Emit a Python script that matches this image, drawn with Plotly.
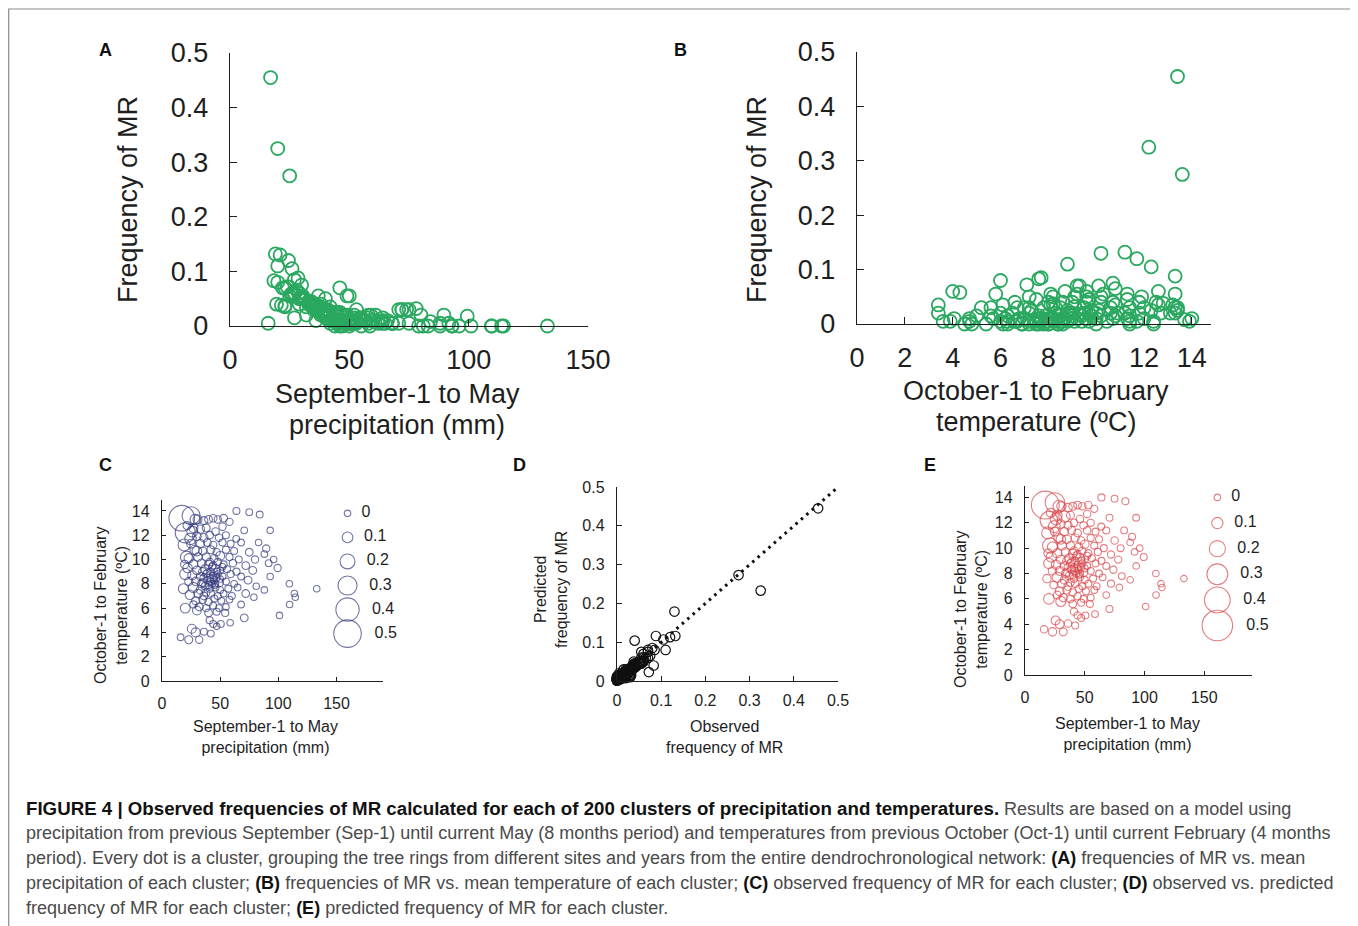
import plotly.graph_objects as go

# ---------------- data (one entry per cluster) ----------------
precip = [17, 20, 25, 19, 21, 24.5, 26, 20, 28.5, 27, 18.4, 24, 20, 30, 30, 22, 23,
          64, 84, 30.5, 36, 40, 44, 48, 53, 58,
          27, 33, 38, 46, 52, 70.7, 93,
          30, 36, 41, 49, 55, 63.8,
          25, 33, 39, 44, 52, 59, 68, 83,
          28, 35, 42, 47, 55, 62, 75, 89.6,
          31, 38, 45, 50, 58, 66, 80, 88, 96,
          27, 34, 40, 44, 48, 53, 61, 72, 91.7,
          30, 37, 42, 46, 50, 56, 64, 78, 99.4,
          26, 33, 38, 41, 44, 47, 52, 59, 68, 93,
          29, 35, 39, 43, 45, 49, 55, 62, 74, 81, 109.5,
          33, 37, 41, 46, 50, 57, 65, 88, 133,
          31, 36, 42, 48, 53, 60, 72, 113.8,
          29, 35, 40, 45, 51, 58, 79, 114.6,
          32, 38, 44, 49, 55, 68, 109.7,
          40, 47, 54.3, 101,
          41, 44, 47, 50.6, 58.6, 70.7,
          16, 23, 32, 25.6, 29, 36, 42,
          39, 43, 47, 45, 42, 48, 40, 44, 46, 36, 50, 38, 52, 41, 35, 34,
          19.5, 21.5, 23, 27, 75]

temp = [13.4, 12.2, 13.6, 11.2, 10.2, 11.7, 12.3, 8.8, 13.3, 7.7, 7.6, 7.1, 6.0, 5.8, 10.7, 9.3, 10.1,
        14.0, 13.7, 13.3, 13.2, 13.3, 13.4, 13.3, 13.4, 13.1,
        12.6, 12.5, 12.6, 12.3, 12.7, 12.4, 12.4,
        11.9, 11.8, 12.0, 11.8, 12.0, 11.7,
        11.3, 11.3, 11.4, 11.2, 11.4, 11.3, 11.4, 11.4,
        10.8, 10.7, 10.8, 10.6, 10.8, 10.7, 10.6, 10.9,
        10.2, 10.2, 10.1, 10.3, 10.2, 10.0, 10.0, 10.45, 10.0,
        9.6, 9.7, 9.6, 9.5, 9.8, 9.6, 9.7, 9.5, 9.7,
        9.1, 9.2, 9.0, 9.2, 9.1, 9.2, 9.0, 9.1, 9.3,
        8.7, 8.6, 8.8, 8.5, 8.7, 8.5, 8.6, 8.8, 8.6, 8.6,
        8.2, 8.1, 8.3, 8.0, 8.3, 8.1, 8.2, 8.0, 8.3, 7.8, 8.0,
        7.5, 7.8, 7.6, 7.7, 7.5, 7.6, 7.7, 7.5, 7.6,
        7.2, 7.0, 7.2, 7.0, 7.2, 7.0, 7.2, 7.2,
        6.6, 6.7, 6.5, 6.8, 6.6, 6.7, 6.9, 6.9,
        6.1, 6.0, 6.2, 6.0, 6.1, 6.3, 6.3,
        5.6, 5.7, 5.6, 5.4,
        5.0, 4.7, 4.5, 4.7, 4.8, 5.2,
        3.6, 3.4, 3.4, 4.3, 4.0, 4.06, 3.9,
        8.9, 9.4, 9.0, 7.9, 8.2, 8.8, 7.9, 8.4, 8.0, 8.5, 8.4, 7.3, 9.4, 9.8, 9.0, 8.0,
        9.6, 12.8, 8.2, 6.3, 13.9]

observed = [0.455, 0.325, 0.275, 0.132, 0.130, 0.120, 0.105, 0.110, 0.088, 0.085, 0.083, 0.072, 0.080, 0.055, 0.075, 0.070, 0.070,
            0.010, 0.008, 0.055, 0.035, 0.030, 0.025, 0.020, 0.030, 0.020,
            0.060, 0.040, 0.035, 0.025, 0.020, 0.005, 0.000,
            0.050, 0.040, 0.030, 0.020, 0.010, 0.005,
            0.055, 0.045, 0.030, 0.020, 0.015, 0.010, 0.005, 0.000,
            0.065, 0.040, 0.035, 0.020, 0.015, 0.010, 0.030, 0.020,
            0.050, 0.040, 0.025, 0.055, 0.015, 0.010, 0.020, 0.005, 0.000,
            0.060, 0.045, 0.050, 0.020, 0.015, 0.010, 0.020, 0.030, 0.005,
            0.050, 0.055, 0.020, 0.070, 0.005, 0.010, 0.015, 0.032, 0.018,
            0.060, 0.040, 0.025, 0.015, 0.010, 0.005, 0.010, 0.020, 0.005, 0.000,
            0.050, 0.035, 0.020, 0.010, 0.005, 0.055, 0.010, 0.005, 0.030, 0.000, 0.000,
            0.045, 0.030, 0.015, 0.010, 0.005, 0.010, 0.005, 0.000, 0.000,
            0.050, 0.030, 0.020, 0.010, 0.005, 0.010, 0.030, 0.000,
            0.040, 0.030, 0.020, 0.010, 0.005, 0.005, 0.000, 0.000,
            0.035, 0.020, 0.010, 0.005, 0.000, 0.005, 0.000,
            0.030, 0.010, 0.015, 0.000,
            0.015, 0.010, 0.000, 0.005, 0.000, 0.030,
            0.005, 0.035, 0.020, 0.058, 0.060, 0.010, 0.005,
            0.020, 0.015, 0.010, 0.005, 0.010, 0.005, 0.015, 0.000, 0.000, 0.030, 0.000, 0.025, 0.005, 0.025, 0.040, 0.040,
            0.040, 0.038, 0.037, 0.015, 0.005]

predicted = [0.445, 0.233, 0.273, 0.116, 0.179, 0.113, 0.107, 0.080, 0.116, 0.080, 0.040, 0.023, 0.085, 0.075, 0.065, 0.080, 0.075,
             0.012, 0.010, 0.060, 0.040, 0.030, 0.025, 0.020, 0.020, 0.015,
             0.070, 0.104, 0.030, 0.020, 0.020, 0.010, 0.005,
             0.045, 0.035, 0.025, 0.020, 0.015, 0.010,
             0.050, 0.040, 0.030, 0.025, 0.020, 0.010, 0.008, 0.005,
             0.060, 0.045, 0.030, 0.020, 0.015, 0.010, 0.020, 0.008,
             0.050, 0.035, 0.030, 0.045, 0.012, 0.010, 0.008, 0.004, 0.003,
             0.055, 0.040, 0.045, 0.025, 0.020, 0.015, 0.012, 0.015, 0.003,
             0.045, 0.050, 0.025, 0.060, 0.015, 0.010, 0.010, 0.015, 0.010,
             0.060, 0.040, 0.030, 0.020, 0.015, 0.012, 0.010, 0.010, 0.008, 0.003,
             0.050, 0.035, 0.025, 0.015, 0.012, 0.045, 0.010, 0.008, 0.015, 0.005, 0.002,
             0.040, 0.030, 0.020, 0.015, 0.010, 0.010, 0.006, 0.003, 0.001,
             0.045, 0.030, 0.020, 0.012, 0.010, 0.006, 0.012, 0.002,
             0.045, 0.030, 0.020, 0.015, 0.010, 0.006, 0.004, 0.002,
             0.035, 0.025, 0.015, 0.010, 0.006, 0.004, 0.002,
             0.025, 0.012, 0.008, 0.002,
             0.020, 0.015, 0.010, 0.008, 0.005, 0.010,
             0.020, 0.040, 0.030, 0.050, 0.050, 0.020, 0.010,
             0.025, 0.020, 0.012, 0.010, 0.015, 0.010, 0.020, 0.012, 0.010, 0.030, 0.008, 0.025, 0.010, 0.030, 0.035, 0.040,
             0.045, 0.050, 0.040, 0.030, 0.006]

legend_levels = [0, 0.1, 0.2, 0.3, 0.4, 0.5]
identity_line = [0, 0.5]

# ---------------- helpers ----------------
# the page body adds an 8px offset; positions below are page pixels
W, H = 1358, 926
OFF = 8
def px(x):
    return (x - OFF) / W
def py(y):
    return 1 - (y - OFF) / H

FONT = "Liberation Sans, Arial, sans-serif"
GREEN = "#2aa860"
NAVY = "#343a7c"
RED = "#d9464b"
INK = "#1e1e1e"

fig = go.Figure()

def axis(dom, rng, tickvals, ticktext, size, ticklen, standoff, anchor):
    return dict(domain=dom, range=rng, tickvals=tickvals, ticktext=ticktext,
                showline=True, linecolor=INK, linewidth=1.4, ticks="inside",
                ticklen=ticklen, tickwidth=1.3, tickcolor=INK, showgrid=False,
                zeroline=False, tickfont=dict(family=FONT, size=size, color=INK),
                ticklabelstandoff=standoff, anchor=anchor, fixedrange=True,
                automargin=False)

def fmt(v):
    return "0" if v == 0 else ("%g" % v)

t05 = [0, 0.1, 0.2, 0.3, 0.4, 0.5]
lab05 = [fmt(v) for v in t05]
t150 = [0, 50, 100, 150]
t14 = list(range(0, 15, 2))

layout = dict(width=W, height=H, margin=dict(l=0, r=0, t=0, b=0, pad=0, autoexpand=False),
              paper_bgcolor="white", plot_bgcolor="rgba(0,0,0,0)", showlegend=False)

# Panel A
layout["xaxis"] = axis([px(230), px(588)], [0, 150], t150, [str(v) for v in t150], 27, 7, 9, "y")
layout["yaxis"] = axis([py(326), py(53)], [0, 0.5], t05, lab05, 27, 7, 15, "x")
# Panel B
layout["xaxis2"] = axis([px(857), px(1211)], [0, 14.8], t14, [str(v) for v in t14], 27, 7, 9, "y2")
layout["yaxis2"] = axis([py(324), py(52)], [0, 0.5], t05, lab05, 27, 7, 15, "x2")
# Panel C
layout["xaxis3"] = axis([px(162), px(383)], [0, 190], t150, [str(v) for v in t150], 16, 4, 8, "y3")
layout["yaxis3"] = axis([py(681), py(500)], [0, 14.9], t14, [str(v) for v in t14], 16, 4, 8, "x3")
# Panel D
layout["xaxis4"] = axis([px(617), px(838)], [0, 0.5], t05, lab05, 16, 5, 5, "y4")
layout["yaxis4"] = axis([py(681), py(487)], [0, 0.5], t05, lab05, 16, 5, 8, "x4")
# Panel E
layout["xaxis5"] = axis([px(1025), px(1252)], [0, 190], t150, [str(v) for v in t150], 16, 4, 8, "y5")
layout["yaxis5"] = axis([py(675), py(486)], [0, 14.9], t14, [str(v) for v in t14], 16, 4, 8, "x5")

# ---------------- traces ----------------
fig.add_trace(go.Scatter(x=precip, y=observed, mode="markers", xaxis="x", yaxis="y",
                         cliponaxis=False,
                         marker=dict(symbol="circle-open", size=13, color=GREEN, line=dict(width=1.8, color=GREEN))))
fig.add_trace(go.Scatter(x=temp, y=observed, mode="markers", xaxis="x2", yaxis="y2",
                         cliponaxis=False,
                         marker=dict(symbol="circle-open", size=13, color=GREEN, line=dict(width=1.8, color=GREEN))))

def bubble_sizes(vals, base, scale):
    return [base + scale * v for v in vals]

def labels(vals):
    return ["  " + fmt(v) for v in vals]

fig.add_trace(go.Scatter(x=precip, y=temp, mode="markers", xaxis="x3", yaxis="y3",
                         cliponaxis=False,
                         marker=dict(symbol="circle-open", size=bubble_sizes(observed, 6.5, 42), sizemode="diameter",
                                     color=NAVY, line=dict(width=1.1, color=NAVY))))
leg_y_c = [13.8 - 1.98 * i for i in range(len(legend_levels))]
fig.add_trace(go.Scatter(x=[159.5] * len(legend_levels), y=leg_y_c, mode="markers+text", xaxis="x3", yaxis="y3",
                         cliponaxis=False, text=labels(legend_levels), textposition="middle right",
                         textfont=dict(family=FONT, size=16, color=INK),
                         marker=dict(symbol="circle-open", size=bubble_sizes(legend_levels, 6.5, 42),
                                     color=NAVY, line=dict(width=1.1, color=NAVY))))

fig.add_trace(go.Scatter(x=identity_line, y=identity_line, mode="lines", xaxis="x4", yaxis="y4",
                         cliponaxis=False, line=dict(color="#111", width=3, dash="2.6px,4.6px")))
fig.add_trace(go.Scatter(x=observed, y=predicted, mode="markers", xaxis="x4", yaxis="y4",
                         cliponaxis=False,
                         marker=dict(symbol="circle-open", size=9.5, color="#111", line=dict(width=1.2, color="#111"))))

fig.add_trace(go.Scatter(x=precip, y=temp, mode="markers", xaxis="x5", yaxis="y5",
                         cliponaxis=False,
                         marker=dict(symbol="circle-open", size=bubble_sizes(predicted, 6.5, 48), sizemode="diameter",
                                     color=RED, line=dict(width=1.1, color=RED))))
leg_y_e = [14.0 - 2.02 * i for i in range(len(legend_levels))]
fig.add_trace(go.Scatter(x=[161] * len(legend_levels), y=leg_y_e, mode="markers+text", xaxis="x5", yaxis="y5",
                         cliponaxis=False, text=labels(legend_levels), textposition="middle right",
                         textfont=dict(family=FONT, size=16, color=INK),
                         marker=dict(symbol="circle-open", size=bubble_sizes(legend_levels, 6.5, 48),
                                     color=RED, line=dict(width=1.1, color=RED))))

# ---------------- annotations ----------------
ann = []
def text(x, y, s, size, angle=0, xanchor="center", bold=False, color=INK):
    ann.append(dict(x=px(x), y=py(y), xref="paper", yref="paper", text=("<b>%s</b>" % s) if bold else s,
                    showarrow=False, textangle=angle, xanchor=xanchor, yanchor="middle",
                    font=dict(family=FONT, size=size, color=color)))

for lab, x, y in [("A", 106, 50), ("B", 680, 50), ("C", 106, 465), ("D", 519, 465), ("E", 930, 465)]:
    text(x, y, lab, 18, bold=True, color="#111")

text(128, 200, "Frequency of MR", 27, angle=-90)
text(397, 394, "September-1 to May", 27)
text(397, 425, "precipitation (mm)", 27)
text(757, 200, "Frequency of MR", 27, angle=-90)
text(1036, 391, "October-1 to February", 27)
text(1036, 422, "temperature (ºC)", 27)

text(111, 605, "October-1 to February<br>temperature (ºC)", 16, angle=-90)
text(265, 737, "September-1 to May<br>precipitation (mm)", 16)
text(551, 590, "Predicted<br>frequency of MR", 16, angle=-90)
text(724, 737, "Observed<br>frequency of MR", 16)
text(971, 610, "October-1 to February<br>temperature (ºC)", 16, angle=-90)
text(1127, 734, "September-1 to May<br>precipitation (mm)", 16)

G = "#4a4a4a"
def cap(y, s):
    ann.append(dict(x=px(24), y=py(y), xref="paper", yref="paper", text=s, showarrow=False,
                    xanchor="left", yanchor="middle", align="left",
                    font=dict(family=FONT, size=18, color=G)))

B = lambda s: "<b><span style='color:#111'>%s</span></b>" % s
BIG = lambda s: "<b><span style='color:#111;font-size:18.7px'>%s</span></b>" % s
cap(808, BIG("FIGURE 4 | Observed frequencies of MR calculated for each of 200 clusters of precipitation and temperatures.")
    + " Results are based on a model using")
cap(833, "precipitation from previous September (Sep-1) until current May (8 months period) and temperatures from previous October (Oct-1) until current February (4 months")
cap(858, "period). Every dot is a cluster, grouping the tree rings from different sites and years from the entire dendrochronological network: "
    + B("(A)") + " frequencies of MR vs. mean")
cap(883, "precipitation of each cluster; " + B("(B)") + " frequencies of MR vs. mean temperature of each cluster; "
    + B("(C)") + " observed frequency of MR for each cluster; " + B("(D)") + " observed vs. predicted")
cap(908, "frequency of MR for each cluster; " + B("(E)") + " predicted frequency of MR for each cluster.")

layout["annotations"] = ann
layout["shapes"] = [dict(type="rect", xref="paper", yref="paper", x0=px(8.7), x1=px(1353), y0=-0.05, y1=py(9),
                         line=dict(color="#8a8a8a", width=1.2), fillcolor="rgba(0,0,0,0)", layer="below")]

fig.update_layout(**layout)
fig.write_html("out.html", config={"displayModeBar": False})
